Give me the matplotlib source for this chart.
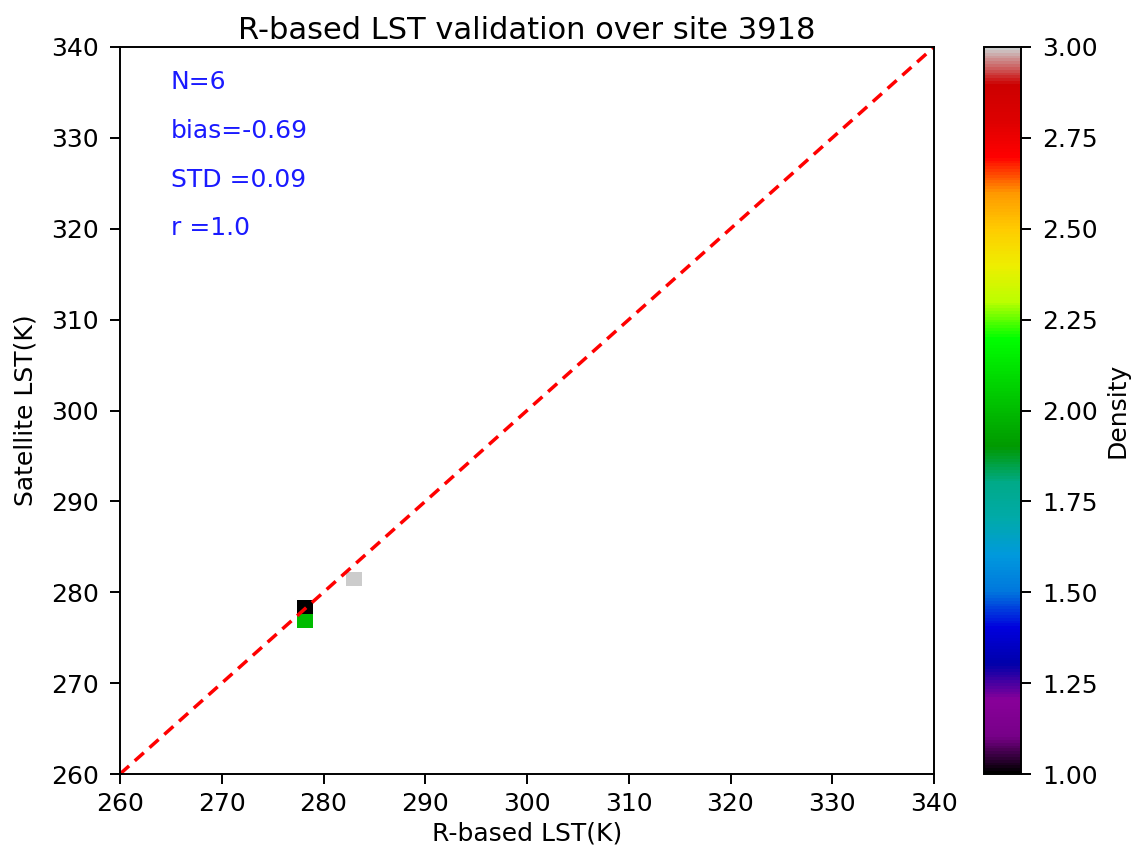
import numpy as np
import matplotlib
matplotlib.use("Agg")
import matplotlib.pyplot as plt

# Data
x_vals = [277.4, 278.2, 278.5, 282.8, 283.2, 283.8]
y_vals = [276.1, 277.0, 278.6, 281.0, 281.5, 282.2]
n_bins = 4
stats_text = ["N=6", "bias=-0.69", "STD =0.09", "r =1.0"]
stats_y = [336.15, 330.76, 325.37, 320.09]
one_to_one = [260, 340]
ticks = [260, 270, 280, 290, 300, 310, 320, 330, 340]

S = 1.8
plt.rcParams['font.size'] = 10 * S
plt.rcParams['xtick.major.size'] = 7
plt.rcParams['ytick.major.size'] = 7
plt.rcParams['xtick.major.pad'] = 6
plt.rcParams['ytick.major.pad'] = 8
plt.rcParams['xtick.major.width'] = 1.4
plt.rcParams['ytick.major.width'] = 1.4
plt.rcParams['axes.linewidth'] = 1.4

fig = plt.figure(figsize=(11.33, 8.56), dpi=100)
ax = fig.add_axes([120/1133, 1-774/856, (934-120)/1133, (774-47)/856])
cax = fig.add_axes([984/1133, 1-774/856, (1021-984)/1133, (774-47)/856])

h = ax.hist2d(x_vals, y_vals, bins=n_bins, cmap='nipy_spectral', cmin=1)
ax.plot(one_to_one, one_to_one, 'r--', lw=2.5, dashes=(3.5, 2.2))
ax.set_xlim(260, 340)
ax.set_ylim(260, 340)
ax.set_xticks(ticks)
ax.set_yticks(ticks)
ax.set_xlabel('R-based LST(K)')
ax.set_ylabel('Satellite LST(K)', labelpad=10)
ax.set_title('R-based LST validation over site 3918', fontsize=22)
for t, yy in zip(stats_text, stats_y):
    ax.text(265, yy, t, color='#1a1aff', va='center', ha='left')

cb = fig.colorbar(h[3], cax=cax)
cb.set_label('Density', labelpad=6)

fig.savefig('out.png', dpi=100)
